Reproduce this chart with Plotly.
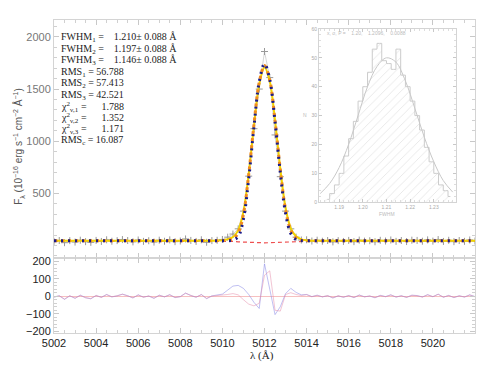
import plotly.graph_objects as go

# wavelength grid (Angstrom)
wave = [5002.00, 5002.25, 5002.50, 5002.75, 5003.00, 5003.25, 5003.50, 5003.75,
        5004.00, 5004.25, 5004.50, 5004.75, 5005.00, 5005.25, 5005.50, 5005.75,
        5006.00, 5006.25, 5006.50, 5006.75, 5007.00, 5007.25, 5007.50, 5007.75,
        5008.00, 5008.25, 5008.50, 5008.75, 5009.00, 5009.25, 5009.50, 5009.75,
        5010.00, 5010.25, 5010.50, 5010.75, 5011.00, 5011.25, 5011.50, 5011.75,
        5012.00, 5012.25, 5012.50, 5012.75, 5013.00, 5013.25, 5013.50, 5013.75,
        5014.00, 5014.25, 5014.50, 5014.75, 5015.00, 5015.25, 5015.50, 5015.75,
        5016.00, 5016.25, 5016.50, 5016.75, 5017.00, 5017.25, 5017.50, 5017.75,
        5018.00, 5018.25, 5018.50, 5018.75, 5019.00, 5019.25, 5019.50, 5019.75,
        5020.00, 5020.25, 5020.50, 5020.75, 5021.00, 5021.25, 5021.50, 5021.75,
        5022.00]

# observed flux
flux_obs = [40, 48, 27, 47, 33, 51, 37, 30, 49, 39, 55, 41, 47, 57, 48, 35,
            53, 40, 46, 33, 51, 41, 54, 37, 43, 63, 49, 39, 55, 31, 47, 50,
            58, 80, 110, 160, 330, 665, 1120, 1500, 1860, 1610, 1060, 660, 330, 160, 80, 53,
            55, 43, 51, 41, 48, 35, 47, 39, 49, 37, 52, 42, 46, 36, 50, 43,
            53, 40, 48, 38, 51, 49, 41, 54, 42, 57, 39, 50, 37, 48, 40, 53,
            43]
flux_err = 12

# fitted models
model_1 = [45, 45, 45, 45, 45, 45, 45, 45, 45, 45, 45, 45, 45, 45, 45, 45,
           45, 45, 45, 45, 45, 45, 45, 45, 45, 45, 45, 45, 45, 45, 45, 45,
           45, 46, 52, 85, 255, 640, 1140, 1570, 1740, 1590, 1190, 700, 310, 115, 58, 47,
           45, 45, 45, 45, 45, 45, 45, 45, 45, 45, 45, 45, 45, 45, 45, 45,
           45, 45, 45, 45, 45, 45, 45, 45, 45, 45, 45, 45, 45, 45, 45, 45,
           45]
model_2 = [45, 45, 45, 45, 45, 45, 45, 45, 45, 45, 45, 45, 45, 45, 45, 45,
           45, 45, 45, 45, 45, 45, 45, 45, 45, 45, 45, 45, 45, 45, 45, 45,
           47, 51, 65, 120, 300, 680, 1160, 1565, 1725, 1585, 1200, 730, 345, 145, 72, 50,
           46, 45, 45, 45, 45, 45, 45, 45, 45, 45, 45, 45, 45, 45, 45, 45,
           45, 45, 45, 45, 45, 45, 45, 45, 45, 45, 45, 45, 45, 45, 45, 45,
           45]
model_3 = [45, 45, 45, 45, 45, 45, 45, 45, 45, 45, 45, 45, 45, 45, 45, 45,
           45, 45, 45, 45, 45, 45, 45, 45, 45, 45, 45, 45, 45, 45, 45, 47,
           51, 60, 82, 145, 325, 690, 1150, 1545, 1710, 1575, 1200, 740, 365, 165, 88, 59,
           49, 46, 45, 45, 45, 45, 45, 45, 45, 45, 45, 45, 45, 45, 45, 45,
           45, 45, 45, 45, 45, 45, 45, 45, 45, 45, 45, 45, 45, 45, 45, 45,
           45]
component = [45, 45, 45, 45, 45, 45, 45, 45, 45, 45, 45, 45, 45, 45, 45, 45,
             45, 45, 45, 45, 45, 45, 45, 45, 45, 45, 45, 45, 45, 45, 45, 45,
             44, 42, 39, 35, 32, 29, 27, 26, 26, 27, 29, 32, 35, 39, 42, 44,
             45, 45, 45, 45, 45, 45, 45, 45, 45, 45, 45, 45, 45, 45, 45, 45,
             45, 45, 45, 45, 45, 45, 45, 45, 45, 45, 45, 45, 45, 45, 45, 45,
             45]

# residuals
resid_1 = [-5, 3, -18, 2, -12, 6, -8, -15, 4, -6, 10, -4, 2, 12, 3, -10,
           8, -5, 1, -12, 6, -4, 9, -8, -2, 18, 4, -6, 10, -14, 2, 5,
           12, 35, 58, 62, 45, 10, -35, -70, 185, 40, -105, -60, 15, 45, 22, 8,
           10, -2, 6, -4, 3, -10, 2, -6, 4, -8, 7, -3, 1, -9, 5, -2,
           8, -5, 3, -7, 6, 4, -4, 9, -3, 12, -6, 5, -8, 3, -5, 8,
           -2]
resid_2 = [-4, 2, -16, 3, -11, 5, -9, -13, 5, -7, 9, -3, 3, 11, 2, -9,
           7, -6, 2, -11, 5, -3, 8, -7, -3, 17, 5, -5, 9, -12, 1, 3,
           5, 10, 15, 8, -20, -45, -55, -40, 120, 145, -80, -85, 10, 20, 10, 4,
           9, -3, 5, -3, 4, -9, 3, -5, 3, -7, 6, -4, 2, -8, 4, -3,
           7, -4, 2, -6, 5, 3, -5, 8, -2, 11, -5, 4, -7, 2, -4, 7,
           -3]

# inset: FWHM distribution
fwhm_bins = [1.185, 1.187, 1.189, 1.191, 1.193, 1.195, 1.197, 1.199, 1.201,
             1.203, 1.205, 1.207, 1.209, 1.211, 1.213, 1.215, 1.217, 1.219,
             1.221, 1.223, 1.225, 1.227, 1.229, 1.231, 1.233, 1.235, 1.237]
fwhm_counts = [1, 3, 6, 10, 16, 22, 28, 35, 40, 45, 53, 55, 49, 48, 46, 53, 44, 40,
               35, 30, 25, 19, 14, 10, 6, 4, 2]
gauss_x = [1.182, 1.186, 1.190, 1.194, 1.198, 1.202, 1.206, 1.210,
           1.214, 1.218, 1.222, 1.226, 1.230, 1.234, 1.238]
gauss_y = [3.0, 6.5, 12.0, 20.0, 30.0, 40.0, 47.0, 50.0,
           48.5, 42.0, 32.5, 22.5, 14.0, 7.5, 3.5]

fit_lines = [
    "FWHM<sub>1</sub> =    1.210± 0.088 Å",
    "FWHM<sub>2</sub> =    1.197± 0.088 Å",
    "FWHM<sub>3</sub> =    1.146± 0.088 Å",
    "RMS<sub>1</sub> = 56.788",
    "RMS<sub>2</sub> = 57.413",
    "RMS<sub>3</sub> = 42.521",
    "χ<sup>2</sup><sub>ν,1</sub> =      1.788",
    "χ<sup>2</sup><sub>ν,2</sub> =      1.352",
    "χ<sup>2</sup><sub>ν,3</sub> =      1.171",
    "RMS<sub>c</sub> = 16.087",
]

fig = go.Figure()

# data
fig.add_trace(go.Scatter(x=wave, y=flux_obs, mode='lines+markers',
                         line=dict(color='#bbbbbb', width=0.6),
                         marker=dict(symbol='cross-thin', size=5, line=dict(color='#999999', width=1)),
                         error_y=dict(type='constant', value=flux_err, color='#bbbbbb', thickness=0.6, width=0),
                         xaxis='x', yaxis='y'))
# models
fig.add_trace(go.Scatter(x=wave, y=component, mode='lines', line=dict(color='#ee5050', width=1.2, dash='4px,3px'),
                         xaxis='x', yaxis='y'))
fig.add_trace(go.Scatter(x=wave, y=model_3, mode='lines', line=dict(color='#f2d400', width=2, shape='spline'),
                         xaxis='x', yaxis='y'))
fig.add_trace(go.Scatter(x=wave, y=model_2, mode='lines', line=dict(color='#f08a20', width=3, shape='spline', dash='3px,4px'),
                         xaxis='x', yaxis='y'))
fig.add_trace(go.Scatter(x=wave, y=model_1, mode='lines', line=dict(color='#1c1c8a', width=3, shape='spline', dash='2px,5px'),
                         xaxis='x', yaxis='y'))

# residuals
fig.add_trace(go.Scatter(x=wave, y=resid_1, mode='lines', line=dict(color='rgba(130,130,230,0.5)', width=1),
                         xaxis='x2', yaxis='y2'))
fig.add_trace(go.Scatter(x=wave, y=resid_2, mode='lines', line=dict(color='rgba(230,140,170,0.5)', width=1),
                         xaxis='x2', yaxis='y2'))

# inset histogram
fig.add_trace(go.Bar(x=fwhm_bins, y=fwhm_counts, width=0.002,
                     marker=dict(color='white', line=dict(width=0),
                                 pattern=dict(shape='/', fgcolor='#d0d0d0', bgcolor='white', size=6, solidity=0.15)),
                     xaxis='x3', yaxis='y3'))
fig.add_trace(go.Scatter(x=fwhm_bins, y=fwhm_counts, mode='lines', line=dict(color='#cccccc', width=1, shape='hvh'),
                         xaxis='x3', yaxis='y3'))
fig.add_trace(go.Scatter(x=gauss_x, y=gauss_y, mode='lines', line=dict(color='#c8c8c8', width=1, shape='spline'),
                         xaxis='x3', yaxis='y3'))

axis_style = dict(showline=True, mirror='ticks', linecolor='#d4d4d4', linewidth=1,
                  ticks='inside', ticklen=5, tickcolor='#c8c8c8', showgrid=False, zeroline=False)

split = 0.2405

# page body adds an 8px offset, so the figure is 8px smaller than the window
fig.update_layout(
    width=482, height=360,
    margin=dict(l=46, r=15, t=9, b=35),
    paper_bgcolor='white', plot_bgcolor='white',
    showlegend=False,
    bargap=0,
    font=dict(family='Liberation Sans', size=11, color='#333333'),
    xaxis=dict(axis_style, domain=[0, 1], anchor='y', range=[5002, 5022], showticklabels=False,
               dtick=2, minor=dict(dtick=0.5, ticks='inside', ticklen=3, tickcolor='#d0d0d0')),
    yaxis=dict(axis_style, domain=[split, 1], anchor='x', range=[-117, 2162],
               tickvals=[500, 1000, 1500, 2000], tickfont=dict(color='#777777', size=11),
               minor=dict(dtick=100, ticks='inside', ticklen=3, tickcolor='#d0d0d0')),
    xaxis2=dict(axis_style, domain=[0, 1], anchor='y2', range=[5002, 5022], matches='x',
                tickvals=[5002, 5004, 5006, 5008, 5010, 5012, 5014, 5016, 5018, 5020],
                tickfont=dict(color='#222222', size=11),
                minor=dict(dtick=0.5, ticks='inside', ticklen=3, tickcolor='#d0d0d0')),
    yaxis2=dict(axis_style, domain=[0, split], anchor='x2', range=[-210, 220],
                tickvals=[-200, -100, 0, 100, 200], tickfont=dict(color='#222222', size=11),
                zeroline=True, zerolinecolor='rgba(240,150,150,0.6)', zerolinewidth=1,
                minor=dict(dtick=20, ticks='inside', ticklen=3, tickcolor='#d0d0d0')),
    xaxis3=dict(axis_style, domain=[0.6295, 0.955], anchor='y3', range=[1.1815, 1.2394],
                tickvals=[1.19, 1.20, 1.21, 1.22, 1.23], ticktext=['1.19', '1.20', '1.21', '1.22', '1.23'],
                tickfont=dict(size=5, color='#aaaaaa'), ticklen=3,
                minor=dict(dtick=0.002, ticks='inside', ticklen=2, tickcolor='#dddddd')),
    yaxis3=dict(axis_style, domain=[0.4177, 0.9715], anchor='x3', range=[0, 60],
                dtick=10, tickfont=dict(size=5, color='#aaaaaa'), ticklen=3,
                minor=dict(dtick=2, ticks='inside', ticklen=2, tickcolor='#dddddd')),
)

# fit summary text block
for k, line in enumerate(fit_lines):
    ypix = 35 + 11.56 * k
    fig.add_annotation(xref='paper', yref='paper', x=0.012, y=(333 - ypix) / 316,
                       xanchor='left', yanchor='middle', showarrow=False, text=line,
                       font=dict(family='Liberation Serif', size=10, color='#222222'))

# axis titles
fig.add_annotation(xref='paper', yref='paper', x=-0.083, y=(333 - 145) / 316, textangle=-90,
                   xanchor='center', yanchor='middle', showarrow=False,
                   text='F<sub>λ</sub> (10<sup>−16</sup> erg s<sup>−1</sup> cm<sup>−2</sup> Å<sup>−1</sup>)',
                   font=dict(family='Liberation Sans', size=10, color='#555555'))
fig.add_annotation(xref='paper', yref='paper', x=(262 - 54) / 421, y=(333 - 356) / 316,
                   xanchor='center', yanchor='middle', showarrow=False, text='λ (Å)',
                   font=dict(family='Liberation Serif', size=11, color='#222222'))

# inset labels
fig.add_annotation(xref='paper', yref='paper', x=(325 - 54) / 421, y=(333 - 30) / 316,
                   xanchor='left', yanchor='middle', showarrow=False,
                   text='x, σ, P =    1.20,    1.2096,    0.0088',
                   font=dict(family='Liberation Sans', size=5, color='#bbbbbb'))
fig.add_annotation(xref='paper', yref='paper', x=(387 - 54) / 421, y=(333 - 213) / 316,
                   xanchor='center', yanchor='middle', showarrow=False, text='FWHM',
                   font=dict(family='Liberation Sans', size=5, color='#bbbbbb'))
fig.add_annotation(xref='paper', yref='paper', x=(305 - 54) / 421, y=(333 - 113) / 316,
                   xanchor='center', yanchor='middle', showarrow=False, text='N',
                   font=dict(family='Liberation Sans', size=5, color='#bbbbbb'))

fig.write_html("out.html")
